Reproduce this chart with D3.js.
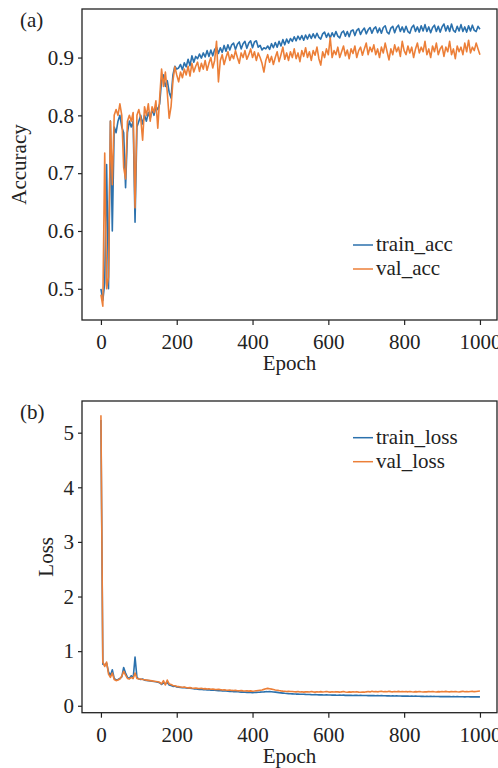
<!DOCTYPE html>
<html>
<head>
<meta charset="utf-8">
<title>Training curves</title>
<script src="https://cdnjs.cloudflare.com/ajax/libs/d3/7.8.5/d3.min.js"></script>
<style>
  body { margin: 0; background: #fff; }
  svg { font-family: "Liberation Serif", "Times New Roman", serif; }
  .tick line { stroke: #222; stroke-width: 1.2; }
</style>
</head>
<body>
<div id="chart"></div>
<script>
// epochs sampled every 5
const epochs = d3.range(0, 1001, 5);
const xTicks = [0, 200, 400, 600, 800, 1000];

const trainAcc = [
  0.50, 0.48, 0.51, 0.715, 0.50, 0.79, 0.60, 0.78, 0.77, 0.79, 0.80, 0.78, 0.77, 0.675, 0.77, 0.79, 0.78, 0.79, 0.615, 0.78, 0.79,
  0.80, 0.785, 0.80, 0.79, 0.805, 0.795, 0.81, 0.80, 0.815, 0.81, 0.82, 0.86, 0.87, 0.85, 0.86, 0.84, 0.83, 0.87, 0.885, 0.88,
  0.882, 0.888, 0.879, 0.891, 0.884, 0.897, 0.886, 0.903, 0.892, 0.902, 0.898, 0.906, 0.899, 0.908, 0.901, 0.912, 0.902, 0.913, 0.903, 0.914,
  0.918, 0.907, 0.917, 0.909, 0.921, 0.911, 0.922, 0.913, 0.922, 0.925, 0.914, 0.923, 0.927, 0.915, 0.924, 0.928, 0.916, 0.925, 0.929, 0.917,
  0.927, 0.929, 0.918, 0.921, 0.913, 0.917, 0.915, 0.92, 0.914, 0.924, 0.917, 0.926, 0.918, 0.928, 0.92, 0.931, 0.922, 0.932, 0.925, 0.933,
  0.928, 0.936, 0.929, 0.937, 0.931, 0.938, 0.93, 0.939, 0.932, 0.94, 0.933, 0.941, 0.934, 0.942, 0.935, 0.932, 0.941, 0.944, 0.935, 0.942,
  0.934, 0.943, 0.936, 0.945, 0.937, 0.934, 0.943, 0.946, 0.937, 0.945, 0.936, 0.946, 0.948, 0.938, 0.947, 0.95, 0.94, 0.947, 0.951, 0.941,
  0.948, 0.952, 0.942, 0.95, 0.953, 0.943, 0.951, 0.942, 0.952, 0.955, 0.944, 0.941, 0.951, 0.954, 0.943, 0.952, 0.956, 0.945, 0.953, 0.944,
  0.954, 0.945, 0.942, 0.952, 0.956, 0.945, 0.953, 0.944, 0.955, 0.946, 0.957, 0.945, 0.953, 0.943, 0.952, 0.956, 0.945, 0.954, 0.944, 0.953,
  0.958, 0.946, 0.955, 0.945, 0.958, 0.947, 0.944, 0.954, 0.946, 0.957, 0.945, 0.953, 0.944, 0.955, 0.946, 0.956, 0.947, 0.945, 0.954, 0.949
];

const valAcc = [
  0.49, 0.47, 0.735, 0.50, 0.52, 0.79, 0.68, 0.80, 0.81, 0.80, 0.82, 0.80, 0.71, 0.69, 0.79, 0.80, 0.79, 0.805, 0.64, 0.80, 0.81,
  0.795, 0.757, 0.815, 0.80, 0.82, 0.79, 0.815, 0.805, 0.825, 0.778, 0.83, 0.88, 0.85, 0.875, 0.84, 0.795, 0.815, 0.86, 0.884, 0.87,
  0.858, 0.875, 0.865, 0.88, 0.87, 0.885, 0.868, 0.89, 0.875, 0.885, 0.892, 0.876, 0.89, 0.88, 0.895, 0.878, 0.89, 0.9, 0.882, 0.895,
  0.928, 0.858, 0.895, 0.905, 0.888, 0.9, 0.91, 0.895, 0.905, 0.898, 0.912, 0.9, 0.89, 0.908, 0.9, 0.912, 0.897, 0.905, 0.915, 0.9,
  0.91, 0.895, 0.908, 0.9, 0.89, 0.875, 0.895, 0.905, 0.892, 0.902, 0.888, 0.9, 0.91, 0.893, 0.905, 0.918, 0.897, 0.908, 0.895, 0.91,
  0.9, 0.915, 0.898, 0.908, 0.893, 0.912, 0.902, 0.917, 0.9, 0.91, 0.895, 0.912, 0.904, 0.918, 0.898, 0.887, 0.91, 0.9, 0.915, 0.905,
  0.934, 0.9, 0.912, 0.905, 0.918, 0.9, 0.91, 0.92, 0.903, 0.913, 0.898, 0.915, 0.907, 0.92, 0.9, 0.912, 0.918, 0.904, 0.915, 0.925,
  0.905, 0.918, 0.91, 0.922, 0.905, 0.915, 0.9, 0.918, 0.908, 0.925, 0.91, 0.896, 0.915, 0.905, 0.922, 0.91, 0.918, 0.902, 0.928, 0.912,
  0.905, 0.92, 0.908, 0.918, 0.9, 0.915, 0.925, 0.908, 0.918, 0.91, 0.928, 0.905, 0.915, 0.9, 0.92, 0.91, 0.925, 0.905, 0.915, 0.92,
  0.902, 0.918, 0.91, 0.928, 0.905, 0.915, 0.898, 0.92, 0.91, 0.918, 0.905, 0.925, 0.91, 0.93, 0.908, 0.918, 0.912, 0.925, 0.915, 0.905
];

const trainLoss = [
  5.23, 0.76, 0.75, 0.78, 0.62, 0.55, 0.66, 0.50, 0.47, 0.48, 0.50, 0.53, 0.70, 0.60, 0.52, 0.50, 0.55, 0.50, 0.89, 0.52, 0.49,
  0.48, 0.49, 0.47, 0.465, 0.46, 0.455, 0.45, 0.445, 0.44, 0.43, 0.42, 0.39, 0.42, 0.40, 0.43, 0.38, 0.37, 0.355, 0.36, 0.345,
  0.34, 0.335, 0.33, 0.335, 0.325, 0.32, 0.322, 0.315, 0.31, 0.312, 0.305, 0.3, 0.303, 0.296, 0.298, 0.29, 0.293, 0.287, 0.284, 0.286,
  0.28, 0.277, 0.279, 0.272, 0.27, 0.273, 0.266, 0.263, 0.265, 0.259, 0.257, 0.26, 0.253, 0.25, 0.252, 0.247, 0.245, 0.248, 0.243, 0.24,
  0.242, 0.245, 0.248, 0.25, 0.253, 0.255, 0.258, 0.256, 0.26, 0.257, 0.252, 0.249, 0.245, 0.24, 0.236, 0.232, 0.228, 0.225, 0.222, 0.22,
  0.218, 0.216, 0.214, 0.215, 0.212, 0.21, 0.211, 0.208, 0.206, 0.207, 0.204, 0.203, 0.205, 0.201, 0.2, 0.202, 0.199, 0.198, 0.2, 0.196,
  0.197, 0.195, 0.196, 0.194, 0.193, 0.195, 0.192, 0.194, 0.191, 0.193, 0.19, 0.192, 0.189, 0.191, 0.19, 0.188, 0.19, 0.187, 0.189, 0.188,
  0.186, 0.188, 0.185, 0.187, 0.184, 0.186, 0.183, 0.185, 0.182, 0.184, 0.181, 0.183, 0.18, 0.182, 0.179, 0.181, 0.178, 0.18, 0.177, 0.179,
  0.176, 0.178, 0.175, 0.177, 0.174, 0.176, 0.173, 0.175, 0.172, 0.174, 0.171, 0.173, 0.17, 0.172, 0.17, 0.171, 0.169, 0.171, 0.168, 0.17,
  0.168, 0.17, 0.167, 0.169, 0.166, 0.168, 0.165, 0.167, 0.164, 0.166, 0.165, 0.163, 0.166, 0.164, 0.162, 0.165, 0.163, 0.164, 0.162, 0.163
];

const valLoss = [
  5.32, 0.80, 0.72, 0.80, 0.58, 0.52, 0.60, 0.48, 0.46, 0.47, 0.49, 0.54, 0.63, 0.56, 0.50, 0.49, 0.52, 0.50, 0.60, 0.50, 0.49,
  0.49, 0.48, 0.475, 0.47, 0.465, 0.46, 0.455, 0.45, 0.445, 0.44, 0.43, 0.40, 0.46, 0.38, 0.47, 0.40, 0.39, 0.37, 0.365, 0.355,
  0.35, 0.345, 0.338, 0.342, 0.333, 0.328, 0.332, 0.325, 0.32, 0.326, 0.318, 0.315, 0.32, 0.31, 0.314, 0.306, 0.31, 0.303, 0.306, 0.3,
  0.298, 0.302, 0.295, 0.29, 0.294, 0.287, 0.285, 0.289, 0.281, 0.279, 0.283, 0.276, 0.274, 0.278, 0.272, 0.27, 0.275, 0.268, 0.272, 0.266,
  0.27, 0.275, 0.28, 0.285, 0.29, 0.3, 0.31, 0.318, 0.312, 0.305, 0.298, 0.29, 0.285, 0.278, 0.272, 0.268, 0.265, 0.262, 0.266, 0.26,
  0.262, 0.258, 0.255, 0.26, 0.252, 0.256, 0.25, 0.255, 0.258, 0.252, 0.26, 0.254, 0.25, 0.257, 0.253, 0.259, 0.251, 0.256, 0.262, 0.255,
  0.25, 0.256, 0.252, 0.258, 0.254, 0.249, 0.255, 0.26, 0.253, 0.248, 0.254, 0.25, 0.256, 0.252, 0.258, 0.25, 0.246, 0.253, 0.249, 0.255,
  0.26, 0.254, 0.265, 0.257, 0.262, 0.255, 0.26, 0.265, 0.258, 0.262, 0.256, 0.264, 0.259, 0.255, 0.261, 0.257, 0.263, 0.258, 0.262, 0.256,
  0.26, 0.255, 0.262, 0.257, 0.253, 0.259, 0.255, 0.261, 0.256, 0.252, 0.258, 0.254, 0.26, 0.256, 0.262, 0.257, 0.253, 0.259, 0.255, 0.261,
  0.257, 0.263, 0.258, 0.254, 0.26, 0.256, 0.262, 0.257, 0.253, 0.259, 0.265, 0.258, 0.262, 0.256, 0.26, 0.264, 0.258, 0.261, 0.267, 0.27
];

const accTicks = [0.5, 0.6, 0.7, 0.8, 0.9];
const lossTicks = [0, 1, 2, 3, 4, 5];

const BLUE = "#2b71ad";
const ORANGE = "#ec7f38";
const SERIF = "'Liberation Serif', 'Times New Roman', serif";

const width = 498, height = 768;
const svg = d3.select("#chart").append("svg")
    .attr("width", width)
    .attr("height", height)
    .attr("font-family", SERIF);

const left = 82, right = 497;
const x = d3.scaleLinear().domain([-49.95, 1048.95]).range([left, right + 1.5]);

// strip d3's default axis font and domain line
function styleAxis(a) {
    a.attr("font-family", SERIF).attr("font-size", 21);
    a.select(".domain").remove();
    a.selectAll(".tick text").attr("fill", "#222").style("font-family", SERIF);
}

function panel(cfg) {
    const y = d3.scaleLinear().domain(cfg.yDomain).range([cfg.bottom, cfg.top]);
    const g = svg.append("g");

    g.append("g")
        .attr("transform", `translate(0,${cfg.bottom})`)
        .call(d3.axisBottom(x).tickValues(xTicks).tickFormat(d3.format("d")).tickSize(5).tickPadding(9))
        .call(styleAxis);

    g.append("g")
        .attr("transform", `translate(${left},0)`)
        .call(d3.axisLeft(y).tickValues(cfg.yTicks).tickFormat(cfg.fmt).tickSize(4).tickPadding(4))
        .call(styleAxis);

    const line = d3.line().x((d, i) => x(epochs[i])).y(d => y(d));
    cfg.series.forEach(s => {
        g.append("path")
            .datum(s.values)
            .attr("fill", "none")
            .attr("stroke", s.color)
            .attr("stroke-width", 1.6)
            .attr("stroke-linejoin", "round")
            .attr("d", line);
    });

    g.append("rect")
        .attr("x", left).attr("y", cfg.top)
        .attr("width", right - left).attr("height", cfg.bottom - cfg.top)
        .attr("fill", "none").attr("stroke", "#222").attr("stroke-width", 1.3);

    // legend
    cfg.series.forEach((s, i) => {
        const ly = cfg.legendY + i * 24;
        g.append("line")
            .attr("x1", 353).attr("x2", 373).attr("y1", ly).attr("y2", ly)
            .attr("stroke", s.color).attr("stroke-width", 1.5);
        g.append("text")
            .attr("x", 376).attr("y", ly + 6)
            .attr("font-size", 21).attr("fill", "#222")
            .text(s.name);
    });

    g.append("text")
        .attr("transform", `translate(${cfg.yLabelX},${(cfg.top + cfg.bottom) / 2}) rotate(-90)`)
        .attr("text-anchor", "middle")
        .attr("font-size", 21).attr("fill", "#222")
        .text(cfg.yLabel);

    g.append("text")
        .attr("x", (left + right) / 2).attr("y", cfg.bottom + 50)
        .attr("text-anchor", "middle")
        .attr("font-size", 21).attr("fill", "#222")
        .text("Epoch");

    g.append("text")
        .attr("x", 20).attr("y", cfg.top + 18)
        .attr("font-size", 21).attr("fill", "#222")
        .text(cfg.tag);
}

panel({
    top: 9, bottom: 320,
    yDomain: [0.446, 0.984], yTicks: accTicks, fmt: d3.format(".1f"),
    yLabel: "Accuracy", yLabelX: 26, tag: "(a)", legendY: 245,
    series: [
        { name: "train_acc", values: trainAcc, color: BLUE },
        { name: "val_acc", values: valAcc, color: ORANGE }
    ]
});

panel({
    top: 401, bottom: 712.7,
    yDomain: [-0.127, 5.58], yTicks: lossTicks, fmt: d3.format("d"),
    yLabel: "Loss", yLabelX: 53, tag: "(b)", legendY: 437.7,
    series: [
        { name: "train_loss", values: trainLoss, color: BLUE },
        { name: "val_loss", values: valLoss, color: ORANGE }
    ]
});
</script>
</body>
</html>
